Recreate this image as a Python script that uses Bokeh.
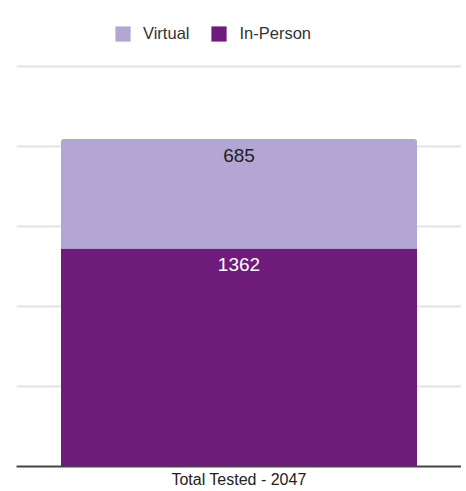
from bokeh.plotting import figure
from bokeh.models import (Range1d, FixedTicker, Legend, LegendItem, LabelSet,
                          ColumnDataSource)
from bokeh.core.properties import value
from bokeh.embed import file_html
from bokeh.resources import INLINE

categories = ["Total Tested - 2047"]
in_person = [1362]
virtual = [685]
series_names = ["In-Person", "Virtual"]
colors = ["#6E1B7B", "#B3A5D4"]
y_ticks = [0, 500, 1000, 1500, 2000, 2500]

tops = [a + b for a, b in zip(in_person, virtual)]
src = ColumnDataSource(dict(
    cat=categories, **{"In-Person": in_person, "Virtual": virtual},
    top=tops, ip=in_person,
    ip_lbl=[str(v) for v in in_person], v_lbl=[str(v) for v in virtual],
))

p = figure(x_range=categories, y_range=Range1d(0, 2912), width=461, height=490,
           output_backend="svg", toolbar_location=None,
           min_border_left=16, min_border_right=0, min_border_top=0,
           min_border_bottom=0)

rs = p.vbar_stack(series_names, x="cat", width=0.8, color=colors, source=src,
                  line_color=None)
rs[1].glyph.border_radius = (3, 3, 0, 0)

p.add_layout(LabelSet(x="cat", y="top", text="v_lbl", source=src, y_offset=-10,
                      text_align="center", text_baseline="top",
                      text_font=value("Liberation Sans"), text_font_size="19px",
                      text_color="#222222"))
p.add_layout(LabelSet(x="cat", y="ip", text="ip_lbl", source=src, y_offset=-9,
                      text_align="center", text_baseline="top",
                      text_font=value("Liberation Sans"), text_font_size="19px",
                      text_color="#ffffff"))

legend = Legend(items=[LegendItem(label="Virtual", renderers=[rs[1]]),
                       LegendItem(label="In-Person", renderers=[rs[0]])],
                orientation="horizontal", location=(97, 423),
                label_text_font="Liberation Sans", label_text_font_size="16.5px",
                label_text_color="#333333", glyph_width=19, glyph_height=19,
                spacing=20, label_standoff=11, padding=0, margin=0,
                border_line_color=None, background_fill_alpha=0)
p.add_layout(legend)

p.yaxis.visible = False
p.yaxis.ticker = FixedTicker(ticks=y_ticks)
p.ygrid.ticker = FixedTicker(ticks=y_ticks)
p.ygrid.grid_line_color = "#e3e3e3"
p.ygrid.grid_line_width = 2
p.xgrid.visible = False
p.xaxis.axis_line_color = "#444444"
p.xaxis.axis_line_width = 2
p.xaxis.major_tick_line_color = None
p.xaxis.minor_tick_line_color = None
p.xaxis.major_tick_out = 0
p.xaxis.major_tick_in = 0
p.xaxis.major_label_standoff = 4
p.xaxis.major_label_text_font = "Liberation Sans"
p.xaxis.major_label_text_font_size = "16px"
p.xaxis.major_label_text_color = "#222222"
p.outline_line_color = None
p.background_fill_color = "white"
p.border_fill_color = "white"

open("out.html", "w").write(file_html(p, INLINE))
